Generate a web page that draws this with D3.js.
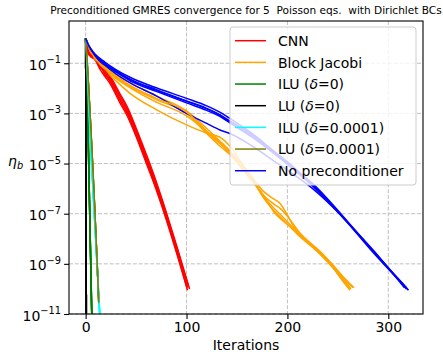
<!DOCTYPE html>
<html><head><meta charset="utf-8">
<script src="https://cdn.jsdelivr.net/npm/d3@7"></script>
<style>
html,body{margin:0;padding:0;background:#fff;}
svg{display:block;font-family:"DejaVu Sans",sans-serif;}
</style></head>
<body>
<svg id="chart" width="443" height="352"></svg>
<script>
// ---- data: each run is a list of [iteration, log10(eta_b)] ----
const methods = ["CNN","Block Jacobi","ILU (δ=0)","LU (δ=0)","ILU (δ=0.0001)","LU (δ=0.0001)","No preconditioner"];
const colors = ["#ff0000","#ffa500","#008000","#000000","#00ffff","#808000","#0000ff"];
const xTicks = [0,100,200,300];
const yTickExps = [-1,-3,-5,-7,-9,-11];

const cnnRuns = [
 [[0,0],[2,-0.5],[5,-0.68],[9,-0.75],[14,-1.1],[19,-1.38],[24,-1.65],[34,-2.4],[41,-2.9],[50,-3.75],[60,-4.8],[67,-5.55],[80,-7.1],[90,-8.4],[101,-9.95]],
 [[0,0],[2,-0.42],[5,-0.6],[9,-0.66],[14,-0.95],[19,-1.24],[24,-1.5],[34,-2.22],[41,-2.72],[50,-3.58],[60,-4.62],[67,-5.38],[80,-6.95],[90,-8.25],[103,-10.0]],
 [[0,0],[2,-0.56],[5,-0.74],[9,-0.84],[14,-1.22],[19,-1.52],[24,-1.8],[34,-2.58],[41,-3.08],[50,-3.92],[60,-4.98],[67,-5.72],[80,-7.25],[90,-8.55],[100,-9.9]],
 [[0,0],[2,-0.52],[5,-0.7],[9,-0.72],[14,-1.05],[19,-1.44],[24,-1.72],[34,-2.48],[41,-2.98],[50,-3.84],[60,-4.88],[67,-5.62],[80,-7.18],[90,-8.48],[101,-10.05]],
 [[0,0],[2,-0.48],[5,-0.66],[9,-0.78],[14,-1.14],[19,-1.3],[24,-1.57],[34,-2.3],[41,-2.8],[50,-3.66],[60,-4.72],[67,-5.47],[80,-7.02],[90,-8.32],[102,-9.9]]
];
const bjRuns = [
 [[0,0],[3,-0.32],[9,-0.75],[19,-1.12],[30,-1.45],[45,-1.8],[70,-2.3],[100,-2.9],[120,-3.6],[133,-4.1],[143,-4.5],[155,-5.05],[166,-5.6],[176,-6.1],[186,-6.4],[193,-6.6],[199,-6.98],[206,-7.5],[212,-7.84],[232,-8.5],[245,-9.05],[255,-9.55],[265,-9.95]],
 [[0,0],[3,-0.38],[9,-0.85],[19,-1.28],[30,-1.7],[44,-2.2],[70,-2.85],[100,-3.46],[120,-3.79],[133,-3.95],[143,-4.3],[155,-5.0],[166,-5.65],[176,-6.35],[186,-6.85],[196,-7.25],[212,-7.9],[232,-8.6],[245,-9.15],[255,-9.65],[262,-10.0]],
 [[0,0],[3,-0.35],[9,-0.8],[19,-1.2],[30,-1.55],[45,-1.95],[70,-2.45],[100,-3.0],[110,-3.35],[120,-3.75],[133,-4.2],[143,-4.6],[155,-5.15],[166,-5.7],[176,-6.3],[186,-6.75],[196,-7.15],[212,-7.84],[232,-8.55],[245,-9.1],[255,-9.6],[263,-10.0]],
 [[0,0],[3,-0.35],[9,-0.82],[19,-1.22],[30,-1.6],[45,-2.0],[70,-2.55],[100,-3.1],[110,-3.4],[120,-3.8],[133,-4.3],[143,-4.65],[155,-5.2],[166,-5.75],[176,-6.25],[186,-6.9],[196,-7.3],[212,-7.8],[232,-8.6],[245,-9.15],[255,-9.7],[262,-10.05]],
 [[0,0],[3,-0.33],[9,-0.78],[19,-1.18],[30,-1.5],[45,-1.9],[70,-2.4],[100,-2.95],[110,-3.3],[120,-3.7],[133,-4.15],[143,-4.55],[155,-5.1],[166,-5.7],[176,-6.25],[186,-6.6],[193,-6.8],[199,-7.05],[212,-7.75],[232,-8.5],[245,-9.05],[255,-9.5],[266,-9.95]]
];
const ilu0Runs = [
 [[0,0],[1,-1.3],[2,-2.9],[3,-4.9],[4,-6.9],[5,-8.9],[6,-10.9],[7,-12.9]],
 [[0,0],[1,-1.35],[2,-3.0],[3,-5.0],[4,-7.0],[5,-9.0],[6,-11.0],[7,-13.0]],
 [[0,0],[1,-1.25],[2,-2.85],[3,-4.8],[4,-6.8],[5,-8.8],[6,-10.8],[7,-12.8]],
 [[0,0],[1,-1.3],[2,-2.95],[3,-4.95],[4,-6.95],[5,-8.95],[6,-10.95],[7,-12.9]],
 [[0,0],[1,-1.28],[2,-2.9],[3,-4.85],[4,-6.85],[5,-8.85],[6,-10.85],[7,-12.85]]
];
const lu0Runs = [
 [[0,0],[1,-16]],[[0,0],[1,-16.1]],[[0,0],[1,-15.9]],[[0,0],[1,-16]],[[0,0],[1,-16.05]]
];
const ilu4Runs = [
 [[0,0],[1,-0.9],[2,-1.8],[3,-2.7],[4,-3.5],[5,-4.3],[6,-5.05],[7,-5.8],[8,-6.55],[9,-7.3],[10,-8.05],[11,-8.8],[12,-9.55],[13,-10.3],[14,-11.05]],
 [[0,0],[1,-0.88],[2,-1.78],[3,-2.68],[4,-3.48],[5,-4.28],[6,-5.03],[7,-5.78],[8,-6.53],[9,-7.28],[10,-8.03],[11,-8.78],[12,-9.53],[13,-10.28],[14,-11.03]],
 [[0,0],[1,-0.92],[2,-1.82],[3,-2.72],[4,-3.52],[5,-4.32],[6,-5.07],[7,-5.82],[8,-6.57],[9,-7.32],[10,-8.07],[11,-8.82],[12,-9.57],[13,-10.32],[14,-11.07]],
 [[0,0],[1,-0.9],[2,-1.8],[3,-2.7],[4,-3.5],[5,-4.3],[6,-5.05],[7,-5.8],[8,-6.55],[9,-7.3],[10,-8.05],[11,-8.8],[12,-9.55],[13,-10.3],[14,-11.05]],
 [[0,0],[1,-0.9],[2,-1.8],[3,-2.7],[4,-3.5],[5,-4.3],[6,-5.05],[7,-5.8],[8,-6.55],[9,-7.3],[10,-8.05],[11,-8.8],[12,-9.55],[13,-10.3],[14,-11.05]]
];
const lu4Runs = [
 [[0,0],[1,-0.6],[2,-1.3],[3,-2.0],[4,-2.75],[5,-3.5],[6,-4.3],[7,-5.1],[8,-5.95],[9,-6.8],[10,-7.7],[11,-8.6],[12,-9.55],[13,-10.55]],
 [[0,0],[1,-0.62],[2,-1.32],[3,-2.02],[4,-2.77],[5,-3.52],[6,-4.32],[7,-5.12],[8,-5.97],[9,-6.82],[10,-7.72],[11,-8.62],[12,-9.57],[13,-10.57]],
 [[0,0],[1,-0.58],[2,-1.28],[3,-1.98],[4,-2.73],[5,-3.48],[6,-4.28],[7,-5.08],[8,-5.93],[9,-6.78],[10,-7.68],[11,-8.58],[12,-9.53],[13,-10.53]],
 [[0,0],[1,-0.6],[2,-1.3],[3,-2.0],[4,-2.75],[5,-3.5],[6,-4.3],[7,-5.1],[8,-5.95],[9,-6.8],[10,-7.7],[11,-8.6],[12,-9.55],[13,-10.55]],
 [[0,0],[1,-0.6],[2,-1.3],[3,-2.0],[4,-2.75],[5,-3.5],[6,-4.3],[7,-5.1],[8,-5.95],[9,-6.8],[10,-7.7],[11,-8.6],[12,-9.55],[13,-10.55]]
];
const noneRuns = [
 [[0,0],[3,-0.3],[9,-0.66],[19,-1.0],[30,-1.3],[45,-1.65],[70,-2.05],[100,-2.5],[120,-2.8],[133,-3.05],[143,-3.3],[165,-3.85],[185,-4.5],[205,-5.15],[225,-5.85],[254,-7.1],[285,-8.5],[318,-10.0]],
 [[0,0],[3,-0.28],[9,-0.62],[19,-0.95],[30,-1.25],[45,-1.58],[70,-1.98],[100,-2.4],[120,-2.7],[133,-2.95],[143,-3.2],[165,-3.8],[185,-4.45],[205,-5.1],[225,-5.85],[254,-7.1],[285,-8.45],[316,-9.95]],
 [[0,0],[3,-0.32],[9,-0.7],[19,-1.05],[30,-1.35],[45,-1.72],[70,-2.12],[100,-2.58],[120,-2.88],[133,-3.12],[143,-3.38],[165,-3.95],[185,-4.55],[205,-5.2],[225,-5.9],[254,-7.1],[285,-8.55],[320,-10.05]],
 [[0,0],[3,-0.33],[9,-0.72],[19,-1.08],[30,-1.42],[45,-1.8],[70,-2.3],[100,-3.0],[120,-3.4],[133,-3.66],[143,-3.8],[165,-4.3],[185,-4.85],[205,-5.4],[225,-6.0],[254,-7.1],[285,-8.5],[318,-9.95]],
 [[0,0],[3,-0.3],[9,-0.68],[19,-1.02],[30,-1.32],[45,-1.68],[70,-2.08],[100,-2.52],[120,-2.82],[133,-3.08],[143,-3.35],[165,-3.9],[185,-4.5],[205,-5.15],[225,-5.8],[254,-7.05],[285,-8.5],[319,-10.0]]
];
const allRuns = [cnnRuns, bjRuns, ilu0Runs, lu0Runs, ilu4Runs, lu4Runs, noneRuns];

// ---- layout ----
const L = 69, R = 423, T = 21, B = 314;
const svg = d3.select("#chart");
const x = d3.scaleLinear().domain([-16.5, 334.4]).range([L, R]);
const y = d3.scaleLog().domain([1e-11, Math.pow(10, 0.685)]).range([B, T]);

// grid
const grid = svg.append("g").attr("stroke", "#b0b0b0").attr("stroke-width", 0.8).attr("stroke-dasharray", "4,1.8");
grid.selectAll("line.gx").data(xTicks).join("line")
  .attr("x1", d => x(d)).attr("x2", d => x(d)).attr("y1", T).attr("y2", B);
grid.selectAll("line.gy").data(yTickExps).join("line")
  .attr("y1", d => y(Math.pow(10, d))).attr("y2", d => y(Math.pow(10, d))).attr("x1", L).attr("x2", R);

// clip
svg.append("clipPath").attr("id", "clip").append("rect")
  .attr("x", L).attr("y", T).attr("width", R - L).attr("height", B - T);

const line = d3.line()
  .x(d => x(d[0]))
  .y(d => y(Math.pow(10, d[1])))
  .curve(d3.curveMonotoneX);

const plot = svg.append("g").attr("clip-path", "url(#clip)");
for (let r = 0; r < 5; r++) {
  allRuns.forEach((runs, m) => {
    plot.append("path").datum(runs[r])
      .attr("d", line).attr("fill", "none")
      .attr("stroke", colors[m]).attr("stroke-width", 1.5)
      .attr("stroke-linejoin", "round");
  });
}

// axes
const xAxis = d3.axisBottom(x).tickValues(xTicks).tickSize(4.9).tickPadding(3.5).tickFormat(d3.format("d"));
const gx = svg.append("g").attr("transform", `translate(0,${B})`).call(xAxis);
gx.select(".domain").remove();
gx.selectAll("text").attr("font-size", 14).attr("font-family", "DejaVu Sans").attr("fill", "#000");
gx.selectAll("line").attr("stroke", "#000").attr("stroke-width", 1.1);

const yAxis = d3.axisLeft(y).tickValues(yTickExps.map(e => Math.pow(10, e))).tickSize(4.9).tickFormat("");
const gy = svg.append("g").attr("transform", `translate(${L},0)`).call(yAxis);
gy.select(".domain").remove();
gy.selectAll("line").attr("stroke", "#000").attr("stroke-width", 1.1);
gy.selectAll(".tick").each(function(d) {
  const e = Math.round(Math.log10(d));
  const t = d3.select(this).append("text")
    .attr("x", -8).attr("y", 6).attr("text-anchor", "end")
    .attr("font-size", 14).attr("font-family", "DejaVu Sans").attr("fill", "#000");
  t.append("tspan").text("10");
  t.append("tspan").attr("dy", -6.5).attr("font-size", 9.8).text("\u2212" + Math.abs(e));
});

// frame
svg.append("rect").attr("x", L).attr("y", T).attr("width", R - L).attr("height", B - T)
  .attr("fill", "none").attr("stroke", "#000").attr("stroke-width", 1.1);

// title
const title = svg.append("text").attr("x", (L + R) / 2).attr("y", 13.5).attr("text-anchor", "middle")
  .attr("font-size", 10).attr("fill", "#000").style("white-space", "pre")
  .text("Preconditioned GMRES convergence for 5  Poisson eqs.  with Dirichlet BCs");
const tl = title.node().getComputedTextLength();
title.attr("font-size", 10 * 392 / tl);

// axis labels
svg.append("text").attr("x", (L + R) / 2).attr("y", 350).attr("text-anchor", "middle")
  .attr("font-size", 14).attr("fill", "#000").text("Iterations");
const yl = svg.append("text").attr("x", 8).attr("y", 166).attr("font-size", 14).attr("fill", "#000");
yl.append("tspan").attr("font-style", "italic").text("η");
yl.append("tspan").attr("font-style", "italic").attr("font-size", 9.8).attr("dy", 2.8).text("b");

// legend
const lg = svg.append("g");
lg.append("rect").attr("x", 230).attr("y", 27).attr("width", 186).attr("height", 158).attr("rx", 3)
  .attr("fill", "#fff").attr("fill-opacity", 0.8).attr("stroke", "#cccccc").attr("stroke-width", 1);
methods.forEach((name, i) => {
  const cy = 40.7 + i * 21.67;
  lg.append("line").attr("x1", 235).attr("x2", 266).attr("y1", cy).attr("y2", cy)
    .attr("stroke", colors[i]).attr("stroke-width", 1.5);
  const t = lg.append("text").attr("x", 278).attr("y", cy + 5.2).attr("font-size", 14).attr("fill", "#000");
  const m = name.match(/^(.*)\((δ)(=.*)\)$/);
  if (m) {
    t.append("tspan").text(m[1] + "(");
    t.append("tspan").attr("font-style", "italic").text("δ");
    t.append("tspan").text(m[3] + ")");
  } else {
    t.text(name);
  }
});
</script>
</body></html>
